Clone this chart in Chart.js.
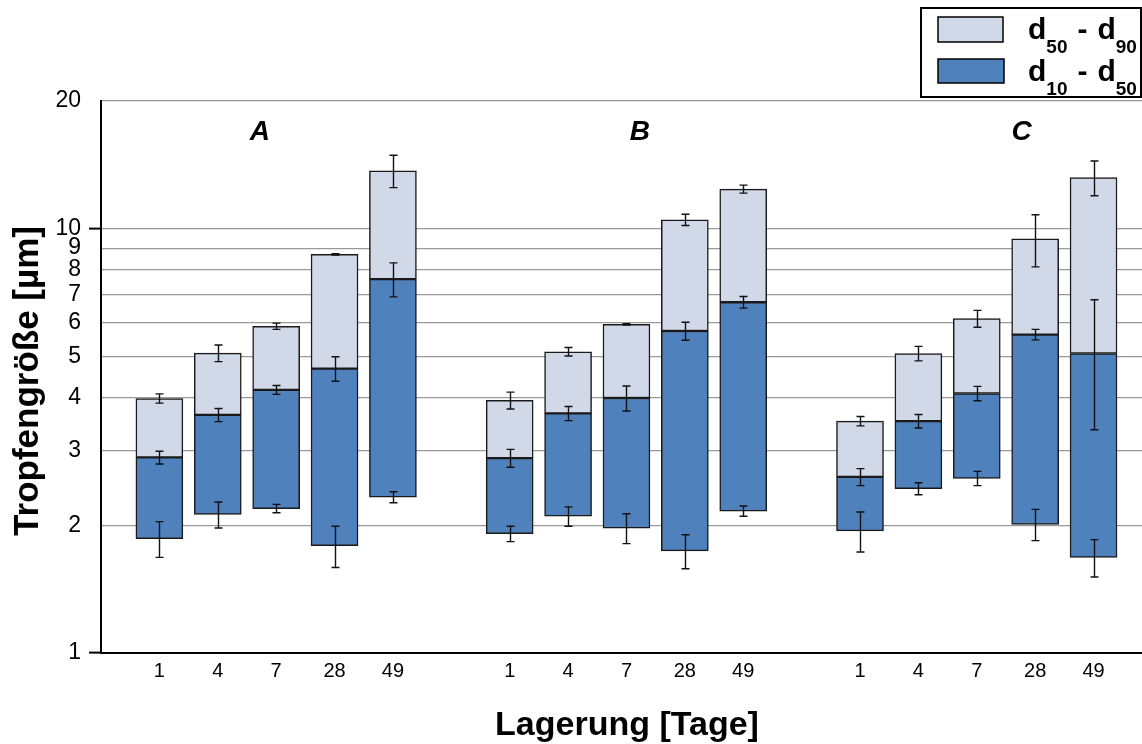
<!DOCTYPE html>
<html>
<head>
<meta charset="utf-8">
<script src="https://cdn.jsdelivr.net/npm/chart.js@4.4.1/dist/chart.umd.min.js"></script>
<style>
  html, body { margin: 0; padding: 0; background: #fff; }
</style>
</head>
<body>
<canvas id="chart" width="1142" height="744"></canvas>
<script>
const groups = ['A', 'B', 'C'];
const days = [1, 4, 7, 28, 49];
const yTicks = [1, 2, 3, 4, 5, 6, 7, 8, 9, 10, 20];

// droplet size percentiles [µm], one row per group A, B, C
const d10 = [
  [1.86, 2.12, 2.19, 1.79, 2.33],
  [1.91, 2.10, 1.97, 1.74, 2.16],
  [1.94, 2.44, 2.58, 2.01, 1.68]
];
const d50 = [
  [2.89, 3.64, 4.17, 4.68, 7.61],
  [2.88, 3.67, 3.99, 5.74, 6.71],
  [2.60, 3.52, 4.09, 5.63, 5.08]
];
const d90 = [
  [3.98, 5.09, 5.89, 8.70, 13.7],
  [3.94, 5.13, 5.95, 10.5, 12.4],
  [3.52, 5.08, 6.14, 9.46, 13.2]
];

// standard deviations of the percentiles
const e10 = [
  [0.18, 0.15, 0.05, 0.20, 0.07],
  [0.08, 0.11, 0.16, 0.16, 0.06],
  [0.21, 0.08, 0.10, 0.17, 0.17]
];
const e50 = [
  [0.10, 0.13, 0.10, 0.31, 0.70],
  [0.14, 0.14, 0.27, 0.28, 0.21],
  [0.12, 0.13, 0.16, 0.16, 1.72]
];
const e90 = [
  [0.10, 0.23, 0.10, 0.03, 1.20],
  [0.18, 0.12, 0.02, 0.32, 0.27],
  [0.09, 0.20, 0.28, 1.33, 1.24]
];

const FONT = "'Liberation Sans', Arial, Helvetica, sans-serif";
const DARK = '#4f81bd';
const LIGHT = '#d1d8e7';

// one empty slot before each group
const slot = (g, i) => g * (days.length + 1) + i + 1;

const lowerBars = [];
const upperBars = [];
const slots = [];
const slotLabels = {};
groups.forEach((g, gi) => {
  days.forEach((d, i) => {
    const s = slot(gi, i);
    slots.push(s);
    slotLabels[s] = String(d);
    lowerBars.push({ x: s, y: [d10[gi][i], d50[gi][i]] });
    upperBars.push({ x: s, y: [d50[gi][i], d90[gi][i]] });
  });
});

const errorBars = {
  id: 'errorBars',
  afterDatasetsDraw(chart) {
    const { ctx, scales: { x, y } } = chart;
    ctx.save();
    ctx.strokeStyle = '#111';
    ctx.lineWidth = 1.4;
    groups.forEach((g, gi) => {
      days.forEach((d, i) => {
        const px = Math.round(x.getPixelForValue(slot(gi, i))) + 0.5;
        [[d10, e10], [d50, e50], [d90, e90]].forEach(([v, e]) => {
          const m = v[gi][i], s = e[gi][i];
          const top = y.getPixelForValue(m + s);
          const bot = y.getPixelForValue(m - s);
          ctx.beginPath();
          ctx.moveTo(px, top); ctx.lineTo(px, bot);
          ctx.moveTo(px - 4, top); ctx.lineTo(px + 4, top);
          ctx.moveTo(px - 4, bot); ctx.lineTo(px + 4, bot);
          ctx.stroke();
        });
      });
    });
    ctx.restore();
  }
};

// group letters sit a little off the group centres
const groupLabelX = [2.72, 9.23, 15.77];

const decorations = {
  id: 'decorations',
  afterDraw(chart) {
    const { ctx, scales: { x, y } } = chart;
    ctx.save();
    ctx.fillStyle = '#000';

    // group letters
    ctx.font = `italic bold 28px ${FONT}`;
    ctx.textAlign = 'center';
    ctx.textBaseline = 'alphabetic';
    groups.forEach((g, gi) => {
      ctx.fillText(g, x.getPixelForValue(groupLabelX[gi]), y.getPixelForValue(17.1) + 10);
    });

    // axis titles
    ctx.font = `bold 34px ${FONT}`;
    ctx.fillText('Lagerung [Tage]', 627, 735);
    ctx.save();
    ctx.translate(38, 381);
    ctx.rotate(-Math.PI / 2);
    ctx.font = `bold 35px ${FONT}`;
    ctx.fillText('Tropfengröße [µm]', 0, 0);
    ctx.restore();

    // legend with subscripted labels
    ctx.lineWidth = 2;
    ctx.strokeStyle = '#000';
    ctx.strokeRect(921, 8, 220, 89);
    ctx.lineWidth = 1.5;
    const rows = [
      { color: LIGHT, sub: ['50', '90'], box: [938, 17, 65, 25], base: 39 },
      { color: DARK, sub: ['10', '50'], box: [938, 59, 66, 24], base: 81 }
    ];
    ctx.textAlign = 'left';
    rows.forEach(r => {
      ctx.fillStyle = r.color;
      ctx.fillRect(...r.box);
      ctx.strokeRect(...r.box);
      ctx.fillStyle = '#000';
      let cx = 1028;
      const piece = (txt, size, dy) => {
        ctx.font = `bold ${size}px ${FONT}`;
        ctx.fillText(txt, cx, r.base + dy);
        cx += ctx.measureText(txt).width;
      };
      piece('d', 30, 0);
      piece(r.sub[0], 19, 14);
      cx += 10;
      piece('-', 30, 0);
      cx += 10;
      piece('d', 30, 0);
      piece(r.sub[1], 19, 14);
    });
    ctx.restore();
  }
};

new Chart(document.getElementById('chart'), {
  type: 'bar',
  data: {
    datasets: [
      {
        label: 'd10 - d50',
        data: lowerBars,
        backgroundColor: DARK,
        borderColor: '#1a1a1a',
        borderWidth: 1.5,
        borderSkipped: false,
        barThickness: 47,
        grouped: false
      },
      {
        label: 'd50 - d90',
        data: upperBars,
        backgroundColor: LIGHT,
        borderColor: '#1a1a1a',
        borderWidth: 1.5,
        borderSkipped: false,
        barThickness: 47,
        grouped: false
      }
    ]
  },
  options: {
    responsive: false,
    animation: false,
    devicePixelRatio: 1,
    layout: { padding: { top: 101, right: 0, left: 0, bottom: 0 } },
    plugins: {
      legend: { display: false },
      tooltip: { enabled: false }
    },
    scales: {
      x: {
        type: 'linear',
        offset: false,
        min: 0,
        max: 17.83,
        grid: { display: false, drawTicks: false },
        border: { color: '#000', width: 2 },
        afterBuildTicks: s => { s.ticks = slots.map(v => ({ value: v })); },
        afterFit: s => { s.height = 91; },
        ticks: {
          autoSkip: false,
          maxRotation: 0,
          padding: 6,
          color: '#000',
          font: { family: FONT, size: 20 },
          callback: v => slotLabels[v] || ''
        }
      },
      y: {
        type: 'logarithmic',
        min: 1,
        max: 20,
        afterBuildTicks: s => { s.ticks = yTicks.map(v => ({ value: v })); },
        afterFit: s => { s.width = 101; },
        grid: {
          color: '#999',
          lineWidth: 1.2,
          tickLength: 12,
          tickWidth: 2,
          tickColor: c => (c.tick && (c.tick.value === 1 || c.tick.value === 10)) ? '#000' : 'rgba(0,0,0,0)'
        },
        border: { color: '#000', width: 2 },
        ticks: {
          autoSkip: false,
          padding: 8,
          color: '#000',
          font: { family: FONT, size: 23 },
          callback: v => String(v)
        }
      }
    }
  },
  plugins: [errorBars, decorations]
});
</script>
</body>
</html>
